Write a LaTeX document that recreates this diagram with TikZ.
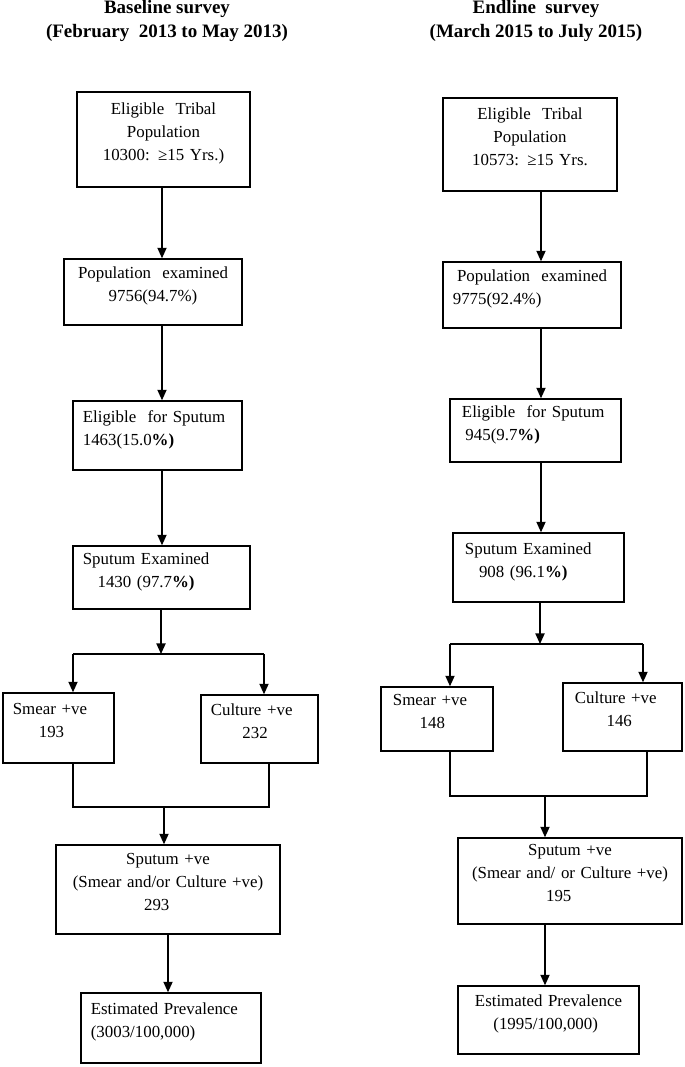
\documentclass[tikz,border=0pt]{standalone}
\usepackage{fontspec}
\setmainfont{Liberation Serif}
\usetikzlibrary{arrows.meta}
\newcommand{\lowpad}{\rule[-11pt]{0pt}{0pt}}
\tikzset{
  bx/.style={draw,line width=1pt,inner xsep=7pt,inner ysep=0pt},
  lbx/.style 2 args={bx,align=left,text width=#1*0.25mm-14pt,
             minimum height=#2*0.25mm},
  cbx/.style 2 args={bx,align=center,text width=#1*0.25mm-14pt,
             minimum height=#2*0.25mm},
  ttl/.style={font=\fontsize{13.5}{17}\selectfont\bfseries,align=center},
  ln/.style={line width=1pt},
  ar/.style={-{Triangle[length=7.5pt,width=6.5pt]},line width=1pt}}

\begin{document}
\begin{tikzpicture}[x=0.25mm, y=-0.25mm, font=\fontsize{12}{16.4}\selectfont]

\useasboundingbox (0,0) rectangle (685,1067);

\node[ttl] (ttlL) at (167,21) {Baseline survey\\(February\ \ 2013 to May 2013)};
\node[ttl] (ttlR) at (536,21) {Endline\ \ survey\\(March 2015 to July 2015)};

\node[cbx={173}{95}] (popL) at (163.5,139.5)
  {Eligible\ \ Tribal\\Population\\10300: ≥15 Yrs.)\lowpad};
\node[cbx={178}{66}] (examL) at (153,292)
  {Population\ \ examined\\9756(94.7\%)\lowpad};
\node[lbx={169}{69}] (eligL) at (157.5,435.5)
  {Eligible\ \ for Sputum\\1463(15.0{\bfseries\%)}\lowpad};
\node[lbx={177}{63}] (sputL) at (161.5,577.5)
  {Sputum Examined\\\hspace*{10.5pt}1430 (97.7{\bfseries\%)}\lowpad};
\node[lbx={111}{70}] (smearL) at (58.5,728) {Smear +ve\\\hspace*{18.5pt}193\lowpad};
\node[lbx={117}{68}] (cultL) at (259.5,729) {Culture +ve\\\hspace*{22.5pt}232\lowpad};
\node[cbx={224}{89}] (posL) at (168,889.5)
  {Sputum +ve\hspace*{15pt}\\(Smear and/or Culture +ve)\\293\hspace*{16pt}\lowpad};
\node[lbx={180}{70}] (estL) at (171,1028)
  {Estimated Prevalence\\(3003/100,000)\lowpad};

\node[cbx={174}{93}] (popR) at (530,144.5)
  {Eligible\ \ Tribal\\Population\\10573: ≥15 Yrs.\lowpad};
\node[lbx={178}{66}] (examR) at (532,295)
  {\hspace*{3pt}Population\ \ examined\\9775(92.4\%)\lowpad};
\node[lbx={171}{63}] (eligR) at (535.5,430.5)
  {\hspace*{1.5pt}Eligible\ \ for Sputum\\\hspace*{4pt}945(9.7{\bfseries\%)}\lowpad};
\node[lbx={171}{69}] (sputR) at (538.5,567.5)
  {\hspace*{1.5pt}Sputum Examined\\\hspace*{11.5pt}908 (96.1{\bfseries\%)}\lowpad};
\node[lbx={112}{64}] (smearR) at (437,719)
  {\hspace*{1.5pt}Smear +ve\\\hspace*{20.5pt}148\lowpad};
\node[lbx={119}{68}] (cultR) at (622.5,717)
  {\hspace*{1.5pt}Culture +ve\\\hspace*{24pt}146\lowpad};
\node[cbx={224}{86}] (posR) at (570,881)
  {Sputum +ve\hspace*{31pt}\\(Smear and/ or Culture +ve)\\195\hspace*{16pt}\lowpad};
\node[cbx={181}{68}] (estR) at (548.5,1020)
  {Estimated Prevalence\\(1995/100,000)\hspace*{4pt}\lowpad};

\coordinate (colL) at (162,0);
\coordinate (brL) at (161,654);
\coordinate (brL1) at (73,654);
\coordinate (brL2) at (264,654);
\coordinate (jnL) at (164,807);
\coordinate (jnL1) at (73,807);
\coordinate (jnL2) at (269,807);
\draw[ar] (popL.south -| colL) -- (examL.north -| colL);
\draw[ar] (examL.south -| colL) -- (eligL.north -| colL);
\draw[ar] (eligL.south -| colL) -- (sputL.north -| colL);
\draw[ar] (sputL.south -| brL) -- (brL);
\draw[ln] (brL1) -- (brL2);
\draw[ar] (brL1) -- (brL1 |- smearL.north);
\draw[ar] (brL2) -- (brL2 |- cultL.north);
\draw[ln] (jnL1 |- smearL.south) -- (jnL1) -- (jnL2) -- (jnL2 |- cultL.south);
\draw[ar] (jnL) -- (jnL |- posL.north);
\draw[ar] (posL.south) -- (posL.south |- estL.north);

\coordinate (colR) at (541,0);
\coordinate (brR) at (540,644);
\coordinate (brR1) at (450,644);
\coordinate (brR2) at (643,644);
\coordinate (jnR) at (545,796);
\coordinate (jnR1) at (450,796);
\coordinate (jnR2) at (647,796);
\draw[ar] (popR.south -| colR) -- (examR.north -| colR);
\draw[ar] (examR.south -| colR) -- (eligR.north -| colR);
\draw[ar] (eligR.south -| colR) -- (sputR.north -| colR);
\draw[ar] (sputR.south -| brR) -- (brR);
\draw[ln] (brR1) -- (brR2);
\draw[ar] (brR1) -- (brR1 |- smearR.north);
\draw[ar] (brR2) -- (brR2 |- cultR.north);
\draw[ln] (jnR1 |- smearR.south) -- (jnR1) -- (jnR2) -- (jnR2 |- cultR.south);
\draw[ar] (jnR) -- (jnR |- posR.north);
\draw[ar] (jnR |- posR.south) -- (jnR |- estR.north);
\end{tikzpicture}
\end{document}
